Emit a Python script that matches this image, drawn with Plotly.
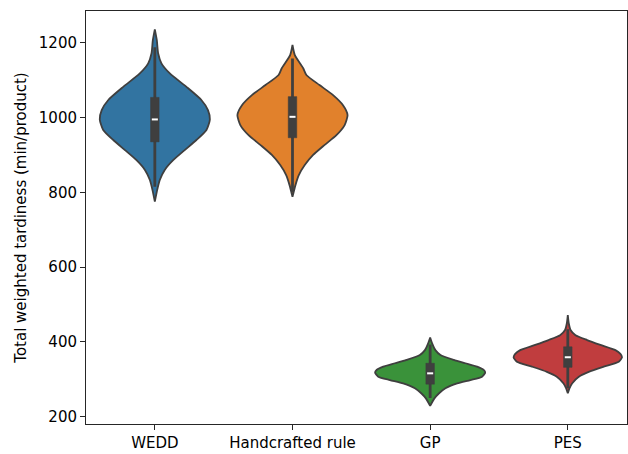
import plotly.graph_objects as go

categories = ["WEDD", "Handcrafted rule", "GP", "PES"]
colors = ["#3274a1", "#e1812c", "#3a923a", "#c03d3e"]

# Violin outline profiles: value grid and half-width (category units)
wedd_vals = [1236, 1207, 1172, 1145, 1118, 1082, 1047, 1020, 995, 967, 940, 913, 886, 860, 833, 806, 775]
wedd_hw   = [0, 0.0145, 0.024, 0.048, 0.109, 0.23, 0.338, 0.386, 0.40, 0.375, 0.302, 0.217, 0.133, 0.072, 0.036, 0.017, 0]

hand_vals = [1194, 1167, 1132, 1114, 1087, 1060, 1033, 1007, 980, 953, 927, 900, 873, 846, 820, 788]
hand_hw   = [0, 0.017, 0.078, 0.101, 0.196, 0.295, 0.367, 0.40, 0.379, 0.319, 0.234, 0.15, 0.089, 0.046, 0.022, 0]

gp_vals = [412, 396, 378, 365, 352, 343, 334, 325, 318, 307, 298, 289, 276, 262, 249, 229]
gp_hw   = [0, 0.0145, 0.038, 0.075, 0.172, 0.256, 0.341, 0.389, 0.40, 0.377, 0.292, 0.196, 0.111, 0.063, 0.031, 0]

pes_vals = [472, 450, 432, 418, 405, 392, 378, 368, 359, 347, 334, 320, 307, 289, 276, 263]
pes_hw   = [0, 0.007, 0.02, 0.056, 0.14, 0.237, 0.346, 0.382, 0.394, 0.37, 0.261, 0.152, 0.08, 0.031, 0.012, 0]

# Inner box stats: whisker low, q1, median, q3, whisker high
box_stats = [
    [815, 935, 995, 1054, 1188],
    [800, 946, 1002, 1056, 1158],
    [250, 287, 316, 343, 393],
    [276, 332, 359, 387, 434],
]

profiles = [(wedd_vals, wedd_hw), (hand_vals, hand_hw), (gp_vals, gp_hw), (pes_vals, pes_hw)]
edge = "#3f3f3f"

fig = go.Figure()
for i, ((vals, hw), col) in enumerate(zip(profiles, colors)):
    xs = [i - h for h in hw] + [i + h for h in reversed(hw)]
    ys = list(vals) + list(reversed(vals))
    xs.append(xs[0]); ys.append(ys[0])
    fig.add_trace(go.Scatter(x=xs, y=ys, mode="lines", fill="toself", fillcolor=col,
                             line=dict(color=edge, width=1.8, shape="spline", smoothing=0.6),
                             hoverinfo="skip", showlegend=False))
    lo, q1, med, q3, hi = box_stats[i]
    fig.add_trace(go.Scatter(x=[i, i], y=[lo, hi], mode="lines",
                             line=dict(color=edge, width=2.8), showlegend=False, hoverinfo="skip"))
    bw = 0.031
    fig.add_trace(go.Scatter(x=[i - bw, i + bw, i + bw, i - bw, i - bw], y=[q1, q1, q3, q3, q1],
                             mode="lines", fill="toself", fillcolor=edge,
                             line=dict(color=edge, width=0.5), showlegend=False, hoverinfo="skip"))
    mw = 0.022
    fig.add_trace(go.Scatter(x=[i - mw, i + mw], y=[med, med], mode="lines",
                             line=dict(color="white", width=2), showlegend=False, hoverinfo="skip"))

fig.update_layout(
    width=628, height=454,
    margin=dict(l=86, r=1, t=11, b=30),
    plot_bgcolor="white", paper_bgcolor="white",
    font=dict(family="DejaVu Sans", size=15, color="black"),
)
axis_common = dict(showgrid=False, zeroline=False, showline=True, linecolor="#262626", linewidth=1,
                   mirror=True, ticks="outside", ticklen=5, tickwidth=1, tickcolor="#262626",
                   tickfont=dict(size=15))
fig.update_xaxes(range=[-0.5, 3.43], tickvals=[0, 1, 2, 3], ticktext=categories, **axis_common)
fig.update_yaxes(range=[180.5, 1285], tickvals=[200, 400, 600, 800, 1000, 1200],
                 title=dict(text="Total weighted tardiness (min/product)", standoff=8,
                            font=dict(size=15)),
                 **axis_common)

fig.write_html("out.html", config={"displayModeBar": False},
               post_script="document.body.style.margin='0';document.body.style.overflow='hidden';")
